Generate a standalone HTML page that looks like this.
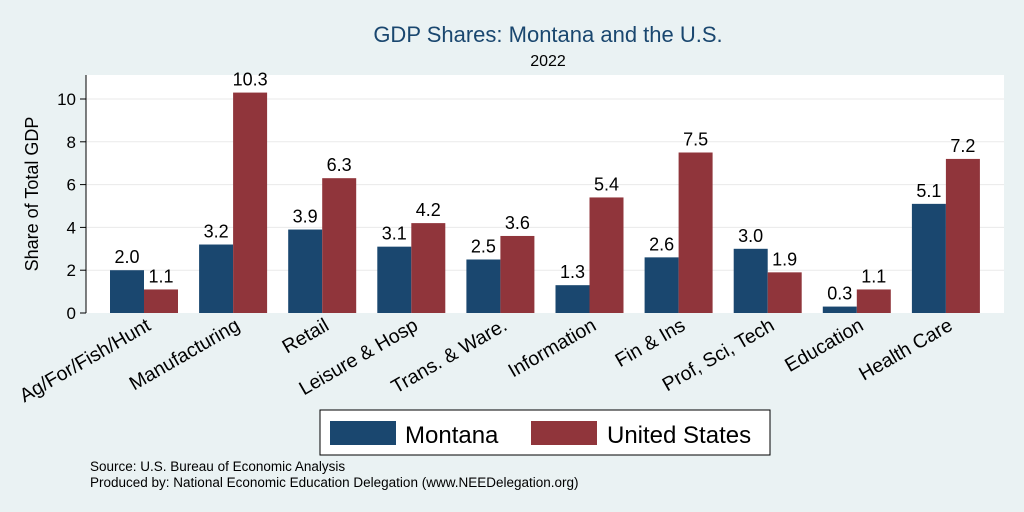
<!DOCTYPE html>
<html><head><meta charset="utf-8"><style>
body{margin:0;background:#eaf2f3;}
svg{display:block;font-family:"Liberation Sans",Arial,sans-serif;}
</style></head><body>
<svg id="chart" width="1024" height="512">
<rect x="0" y="0" width="1024" height="512" fill="#eaf2f3"/>
<rect x="86" y="75" width="918" height="238" fill="#ffffff"/>
<text x="548" y="42" text-anchor="middle" font-size="22" fill="#1a476f">GDP Shares: Montana and the U.S.</text>
<text x="548" y="66" text-anchor="middle" font-size="16" fill="#000">2022</text>
<text transform="translate(38,194) rotate(-90)" text-anchor="middle" font-size="18" fill="#000">Share of Total GDP</text>
<g id="grid"></g><g id="bars"></g><g id="labels"></g>
<line x1="86" y1="75" x2="86" y2="313" stroke="#000" stroke-width="1"/>
<g>
<rect x="320" y="410" width="450" height="45" fill="#fff" stroke="#000" stroke-width="1"/>
<rect x="330" y="421" width="66" height="24" fill="#1a476f"/>
<text x="405" y="443" font-size="24">Montana</text>
<rect x="531" y="421" width="66" height="24" fill="#90353b"/>
<text x="607" y="443" font-size="24">United States</text>
</g>
<text x="90" y="471" font-size="13.5">Source: U.S. Bureau of Economic Analysis</text>
<text x="90" y="487" font-size="13.5">Produced by: National Economic Education Delegation (www.NEEDelegation.org)</text>
</svg>
<script>
const categories=["Ag/For/Fish/Hunt","Manufacturing","Retail","Leisure & Hosp","Trans. & Ware.","Information","Fin & Ins","Prof, Sci, Tech","Education","Health Care"];
const montana=[2.0,3.2,3.9,3.1,2.5,1.3,2.6,3.0,0.3,5.1];
const unitedStates=[1.1,10.3,6.3,4.2,3.6,5.4,7.5,1.9,1.1,7.2];
const yTicks=[0,2,4,6,8,10];
const NS="http://www.w3.org/2000/svg";
const y=v=>313-v*21.4;
const cx=i=>144+i*89.1;
const bw=34;
function mk(tag,attrs,parent){const e=document.createElementNS(NS,tag);for(const k in attrs)e.setAttribute(k,attrs[k]);parent.appendChild(e);return e;}
const grid=document.getElementById('grid'),bars=document.getElementById('bars'),labels=document.getElementById('labels');
yTicks.forEach(t=>{
  if(t>0){const g=mk('line',{x1:86,x2:1004,y1:y(t),y2:y(t),stroke:'#eaeaea','stroke-width':1},grid);
  
  }
  const tk=mk('line',{x1:80,x2:86,y1:y(t),y2:y(t),stroke:'#000'},grid);
  
  
  const tx=mk('text',{x:76,y:y(t)+6,'text-anchor':'end','font-size':17},grid);tx.textContent=t;
  
  
});
categories.forEach((c,i)=>{
  const m=mk('rect',{x:cx(i)-bw,y:y(montana[i]),width:bw,height:montana[i]*21.4,fill:'#1a476f'},bars);
  
  
  const u=mk('rect',{x:cx(i),y:y(unitedStates[i]),width:bw,height:unitedStates[i]*21.4,fill:'#90353b'},bars);
  
  
  const ml=mk('text',{x:cx(i)-bw/2,y:y(montana[i])-7,'text-anchor':'middle','font-size':18},labels);ml.textContent=montana[i].toFixed(1);
  
  
  const ul=mk('text',{x:cx(i)+bw/2,y:y(unitedStates[i])-7,'text-anchor':'middle','font-size':18},labels);ul.textContent=unitedStates[i].toFixed(1);
  
  
  const xl=mk('text',{transform:`translate(${cx(i)+8},${329}) rotate(-30)`,'text-anchor':'end','font-size':19.5},labels);xl.textContent=c;
  
  
});
</script>
</body></html>
